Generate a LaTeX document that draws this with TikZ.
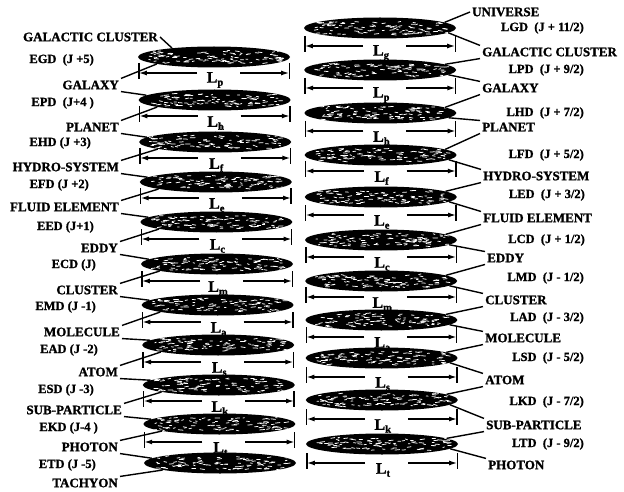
\documentclass[tikz,border=0pt]{standalone}
\usepackage{fontspec}
\setmainfont{Liberation Serif}[BoldFeatures={FakeBold=1.2}]
\usepackage{tikz}
\usetikzlibrary{arrows.meta,calc,shapes.geometric}
\tikzset{
  disc/.style={
    ellipse,
    fill=black,
    minimum width=152pt,
    minimum height=21pt,
    inner sep=0pt,
    path picture={
      \foreach \k in {1,...,95}
        \draw[speck] ($(path picture bounding box.center)+(66*rand,6.5*rand)$) -- ++(1.5+3.5*rnd,0.8*rand);
    }
  },
  speck/.style={white, line width=0.75pt, line cap=round},
  leader/.style={line width=1.4pt, draw=black},
  tick/.style={line width=1.4pt},
  spanarrow/.style={line width=1.4pt, -{Latex[length=8pt,width=5pt]}},
  lenlabel/.style={font=\fontsize{16}{16}\selectfont\bfseries, inner sep=0pt},
  levelname/.style={font=\fontsize{13}{14}\selectfont\bfseries, inner xsep=2pt, inner ysep=2pt},
  levelcode/.style={font=\fontsize{12.5}{14}\selectfont\bfseries, inner sep=1pt}
}
\newcommand{\Lsub}[1]{L\raisebox{-0.4ex}{\fontsize{10.5}{10}\selectfont #1}}
% length bar under a disc: #1 disc, #2 subscript, #3 drop of the bar
\newcommand{\lenbar}[3]{%
  \coordinate (#1-l) at ($(#1.west)+(1,#3)$);
  \coordinate (#1-r) at ($(#1.east)+(-1,#3)$);
  \coordinate (#1-gl) at ($(#1.center)+(-17,#3)$);
  \coordinate (#1-gr) at ($(#1.center)+(26,#3)$);
  \node[lenlabel] (#1-len) at ($(#1.center)+(1,#3+7)$) {\Lsub{#2}};
  \draw[tick] ($(#1-l)+(0,-10)$) -- ($(#1-l)+(0,6)$);
  \draw[tick] ($(#1-r)+(0,-10)$) -- ($(#1-r)+(0,6)$);
  \draw[spanarrow] (#1-gl) -- (#1-l);
  \draw[spanarrow] (#1-gr) -- (#1-r);
}

\begin{document}
\begin{tikzpicture}[x=1pt,y=-1pt]
\path[use as bounding box] (0,0) rectangle (624,492);
\fill[white] (0,0) rectangle (624,492);
\pgfmathsetseed{4242}

% E ladder (left)
\node[disc] (EGD) at (214,57) {};
\node[disc] (EPD) at (214.6,100) {};
\node[disc] (EHD) at (215.2,142) {};
\node[disc] (EFD) at (215.8,182) {};
\node[disc] (EED) at (216.4,222) {};
\node[disc] (ECD) at (217,264) {};
\node[disc] (EMD) at (217.6,305) {};
\node[disc] (EAD) at (218.2,345) {};
\node[disc] (ESD) at (218.8,385) {};
\node[disc] (EKD) at (219.4,424) {};
\node[disc] (ETD) at (220,463) {};

\lenbar{EGD}{p}{16}
\lenbar{EPD}{h}{16}
\lenbar{EHD}{f}{16}
\lenbar{EFD}{e}{16}
\lenbar{EED}{c}{17}
\lenbar{ECD}{m}{17}
\lenbar{EMD}{a}{17}
\lenbar{EAD}{s}{17}
\lenbar{ESD}{k}{16}
\lenbar{EKD}{t}{18}

\node[levelname, anchor=east] (galclusterE) at (160,37) {GALACTIC CLUSTER};
\node[levelcode, anchor=east] (EGDtag) at (95,60) {EGD~~(J +5)};
\node[levelname, anchor=east] (galaxyE) at (121,85) {GALAXY};
\node[levelcode, anchor=east] (EPDtag) at (95,103) {EPD~~(J+4 )};
\node[levelname, anchor=east] (planetE) at (121,127) {PLANET};
\node[levelcode, anchor=east] (EHDtag) at (92,143) {EHD (J +3)};
\node[levelname, anchor=east] (hydroE) at (121,167) {HYDRO-SYSTEM};
\node[levelcode, anchor=east] (EFDtag) at (90,185) {EFD (J +2)};
\node[levelname, anchor=east] (fluidE) at (121,207) {FLUID ELEMENT};
\node[levelcode, anchor=east] (EEDtag) at (95,227) {EED (J+1)};
\node[levelname, anchor=east] (eddyE) at (120,248) {EDDY};
\node[levelcode, anchor=east] (ECDtag) at (97,265) {ECD (J)};
\node[levelname, anchor=east] (clusterE) at (120,290) {CLUSTER};
\node[levelcode, anchor=east] (EMDtag) at (97,307) {EMD (J -1)};
\node[levelname, anchor=east] (moleculeE) at (122,332) {MOLECULE};
\node[levelcode, anchor=east] (EADtag) at (99,350) {EAD (J -2)};
\node[levelname, anchor=east] (atomE) at (120,372) {ATOM};
\node[levelcode, anchor=east] (ESDtag) at (95,390) {ESD (J -3)};
\node[levelname, anchor=east] (subpartE) at (124,410) {SUB-PARTICLE};
\node[levelcode, anchor=east] (EKDtag) at (99,428) {EKD (J-4 )};
\node[levelname, anchor=east] (photonE) at (120,447) {PHOTON};
\node[levelcode, anchor=east] (ETDtag) at (97,465) {ETD (J -5)};
\node[levelname, anchor=east] (tachyonE) at (120,483) {TACHYON};

\draw[leader] (galclusterE.east) -- (EGD.168);
\draw[leader] (galaxyE.north east) -- (EGD.187);
\draw[leader] (galaxyE.south east) -- (EPD.176);
\draw[leader] (planetE.north east) -- (EPD.187);
\draw[leader] (planetE.south east) -- (EHD.176);
\draw[leader] (hydroE.north east) -- (EHD.187);
\draw[leader] (hydroE.south east) -- (EFD.176);
\draw[leader] (fluidE.north east) -- (EFD.187);
\draw[leader] (fluidE.south east) -- (EED.176);
\draw[leader] (eddyE.north east) -- (EED.187);
\draw[leader] (eddyE.south east) -- (ECD.176);
\draw[leader] (clusterE.north east) -- (ECD.187);
\draw[leader] (clusterE.south east) -- (EMD.176);
\draw[leader] (moleculeE.north east) -- (EMD.187);
\draw[leader] (moleculeE.south east) -- (EAD.176);
\draw[leader] (atomE.north east) -- (EAD.187);
\draw[leader] (atomE.south east) -- (ESD.176);
\draw[leader] (subpartE.north east) -- (ESD.187);
\draw[leader] (subpartE.south east) -- (EKD.176);
\draw[leader] (photonE.north east) -- (EKD.187);
\draw[leader] (photonE.south east) -- (ETD.176);
\draw[leader] (tachyonE.north east) -- (ETD.187);

% L ladder (right)
\node[disc] (LGD) at (380,28) {};
\node[disc] (LPD) at (380.2,70) {};
\node[disc] (LHD) at (380.4,113) {};
\node[disc] (LFD) at (380.6,155) {};
\node[disc] (LED) at (380.8,197) {};
\node[disc] (LCD) at (381,240) {};
\node[disc] (LMD) at (381.2,281) {};
\node[disc] (LAD) at (381.4,320) {};
\node[disc] (LSD) at (381.6,358) {};
\node[disc] (LKD) at (381.8,400) {};
\node[disc] (LTD) at (382,444) {};

\lenbar{LGD}{g}{18}
\lenbar{LPD}{p}{18}
\lenbar{LHD}{h}{18}
\lenbar{LFD}{f}{16}
\lenbar{LED}{e}{18}
\lenbar{LCD}{c}{17}
\lenbar{LMD}{m}{16}
\lenbar{LAD}{a}{17}
\lenbar{LSD}{s}{19}
\lenbar{LKD}{k}{19}
\lenbar{LTD}{t}{19}

\node[levelname, anchor=west] (universeL) at (470,12) {UNIVERSE};
\node[levelcode, anchor=east] (LGDtag) at (585,28) {LGD~~(J + 11/2)};
\node[levelname, anchor=west] (galclusterL) at (480,52) {GALACTIC CLUSTER};
\node[levelcode, anchor=east] (LPDtag) at (585,70) {LPD~~(J + 9/2)};
\node[levelname, anchor=west] (galaxyL) at (480,88) {GALAXY};
\node[levelcode, anchor=east] (LHDtag) at (585,113) {LHD~~(J + 7/2)};
\node[levelname, anchor=west] (planetL) at (480,127) {PLANET};
\node[levelcode, anchor=east] (LFDtag) at (585,155) {LFD~~(J + 5/2)};
\node[levelname, anchor=west] (hydroL) at (481,176) {HYDRO-SYSTEM};
\node[levelcode, anchor=east] (LEDtag) at (586,195) {LED~~(J + 3/2)};
\node[levelname, anchor=west] (fluidL) at (481,218) {FLUID ELEMENT};
\node[levelcode, anchor=east] (LCDtag) at (586,240) {LCD~~(J + 1/2)};
\node[levelname, anchor=west] (eddyL) at (485,258) {EDDY};
\node[levelcode, anchor=east] (LMDtag) at (585,278) {LMD~~(J - 1/2)};
\node[levelname, anchor=west] (clusterL) at (483,300) {CLUSTER};
\node[levelcode, anchor=east] (LADtag) at (585,318) {LAD~~(J - 3/2)};
\node[levelname, anchor=west] (moleculeL) at (483,338) {MOLECULE};
\node[levelcode, anchor=east] (LSDtag) at (585,358) {LSD~~(J - 5/2)};
\node[levelname, anchor=west] (atomL) at (483,380) {ATOM};
\node[levelcode, anchor=east] (LKDtag) at (585,402) {LKD~~(J - 7/2)};
\node[levelname, anchor=west] (subpartL) at (484,425) {SUB-PARTICLE};
\node[levelcode, anchor=east] (LTDtag) at (585,444) {LTD~~(J - 9/2)};
\node[levelname, anchor=west] (photonL) at (486,465) {PHOTON};

\draw[leader] (universeL.west) -- (LGD.5);
\draw[leader] (LGD.356) -- (galclusterL.north west);
\draw[leader] (galclusterL.south west) -- (LPD.5);
\draw[leader] (LPD.356) -- (galaxyL.north west);
\draw[leader] (galaxyL.south west) -- (LHD.5);
\draw[leader] (LHD.356) -- (planetL.north west);
\draw[leader] (planetL.south west) -- (LFD.5);
\draw[leader] (LFD.356) -- (hydroL.north west);
\draw[leader] (hydroL.south west) -- (LED.5);
\draw[leader] (LED.356) -- (fluidL.north west);
\draw[leader] (fluidL.south west) -- (LCD.5);
\draw[leader] (LCD.356) -- (eddyL.north west);
\draw[leader] (eddyL.south west) -- (LMD.5);
\draw[leader] (LMD.356) -- (clusterL.north west);
\draw[leader] (clusterL.south west) -- (LAD.5);
\draw[leader] (LAD.356) -- (moleculeL.north west);
\draw[leader] (moleculeL.south west) -- (LSD.5);
\draw[leader] (LSD.356) -- (atomL.north west);
\draw[leader] (atomL.south west) -- (LKD.5);
\draw[leader] (LKD.356) -- (subpartL.north west);
\draw[leader] (subpartL.south west) -- (LTD.5);
\draw[leader] (LTD.356) -- (photonL.north west);

\end{tikzpicture}
\end{document}
